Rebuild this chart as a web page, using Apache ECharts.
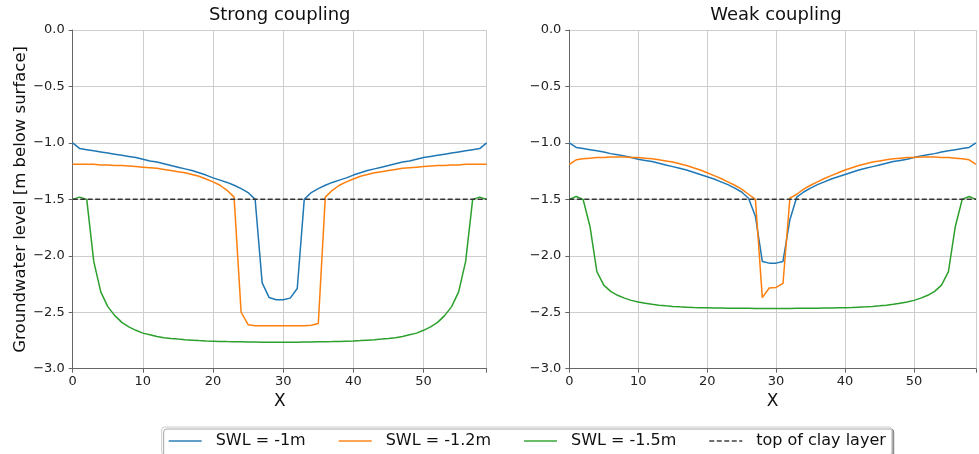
<!DOCTYPE html>
<html>
<head>
<meta charset="utf-8">
<script src="https://cdn.jsdelivr.net/npm/echarts@6/dist/echarts.min.js"></script>
<style>
html,body{margin:0;padding:0;background:#fff;}
#chart{width:979px;height:454px;}
</style>
</head>
<body>
<div id="chart"></div>
<script>
const titles = ["Strong coupling", "Weak coupling"];
const seriesNames = ["SWL = -1m", "SWL = -1.2m", "SWL = -1.5m", "top of clay layer"];
const xValues = [0,1,2,3,4,5,6,7,8,9,10,11,12,13,14,15,16,17,18,19,20,21,22,23,24,25,26,27,28,29,30,31,32,33,34,35,36,37,38,39,40,41,42,43,44,45,46,47,48,49,50,51,52,53,54,55,56,57,58,59];
const clayX = [0, 59];
const clayLevel = [-1.5, -1.5];
const yTicks = [-3.0, -2.5, -2.0, -1.5, -1.0, -0.5, 0.0];
const xTicks = [0, 10, 20, 30, 40, 50];

const strongSWL1 = [-1.00,-1.05,-1.06,-1.07,-1.08,-1.09,-1.10,-1.11,-1.12,-1.13,-1.145,-1.16,-1.17,-1.185,-1.20,-1.215,-1.23,-1.245,-1.265,-1.285,-1.31,-1.33,-1.35,-1.375,-1.405,-1.44,-1.50,-2.24,-2.37,-2.39,-2.39,-2.375,-2.29,-1.50,-1.44,-1.405,-1.375,-1.35,-1.33,-1.31,-1.285,-1.265,-1.245,-1.23,-1.215,-1.20,-1.185,-1.17,-1.16,-1.145,-1.13,-1.12,-1.11,-1.10,-1.09,-1.08,-1.07,-1.06,-1.05,-1.00];
const strongSWL12 = [-1.19,-1.19,-1.19,-1.19,-1.195,-1.195,-1.20,-1.20,-1.205,-1.21,-1.215,-1.22,-1.225,-1.235,-1.245,-1.255,-1.265,-1.28,-1.295,-1.32,-1.345,-1.375,-1.42,-1.48,-2.50,-2.61,-2.62,-2.62,-2.62,-2.62,-2.62,-2.62,-2.62,-2.62,-2.615,-2.60,-1.48,-1.42,-1.375,-1.345,-1.32,-1.295,-1.28,-1.265,-1.255,-1.245,-1.235,-1.225,-1.22,-1.215,-1.21,-1.205,-1.20,-1.20,-1.195,-1.195,-1.19,-1.19,-1.19,-1.19];
const strongSWL15 = [-1.50,-1.48,-1.50,-2.05,-2.32,-2.45,-2.53,-2.59,-2.63,-2.66,-2.685,-2.70,-2.715,-2.725,-2.732,-2.738,-2.743,-2.747,-2.751,-2.754,-2.756,-2.758,-2.760,-2.761,-2.762,-2.763,-2.764,-2.765,-2.765,-2.766,-2.766,-2.765,-2.765,-2.764,-2.763,-2.762,-2.761,-2.760,-2.758,-2.756,-2.754,-2.751,-2.747,-2.743,-2.738,-2.732,-2.725,-2.715,-2.70,-2.685,-2.66,-2.63,-2.59,-2.53,-2.45,-2.32,-2.05,-1.50,-1.48,-1.50];

const weakSWL1 = [-1.00,-1.04,-1.05,-1.06,-1.07,-1.08,-1.095,-1.105,-1.115,-1.13,-1.145,-1.155,-1.165,-1.18,-1.195,-1.21,-1.225,-1.24,-1.26,-1.28,-1.30,-1.32,-1.345,-1.37,-1.40,-1.435,-1.49,-1.65,-2.05,-2.065,-2.065,-2.05,-1.68,-1.48,-1.435,-1.40,-1.37,-1.345,-1.32,-1.30,-1.28,-1.26,-1.24,-1.225,-1.21,-1.195,-1.18,-1.165,-1.155,-1.145,-1.13,-1.115,-1.105,-1.095,-1.08,-1.07,-1.06,-1.05,-1.04,-1.00];
const weakSWL12 = [-1.19,-1.15,-1.14,-1.135,-1.13,-1.13,-1.125,-1.125,-1.125,-1.13,-1.13,-1.135,-1.14,-1.15,-1.16,-1.17,-1.185,-1.20,-1.22,-1.24,-1.265,-1.29,-1.315,-1.345,-1.375,-1.41,-1.455,-1.50,-2.37,-2.285,-2.28,-2.245,-1.49,-1.455,-1.41,-1.375,-1.345,-1.315,-1.29,-1.265,-1.24,-1.22,-1.20,-1.185,-1.17,-1.16,-1.15,-1.14,-1.135,-1.13,-1.13,-1.125,-1.125,-1.125,-1.13,-1.13,-1.135,-1.14,-1.15,-1.19];
const weakSWL15 = [-1.50,-1.475,-1.50,-1.74,-2.14,-2.26,-2.315,-2.35,-2.375,-2.395,-2.41,-2.42,-2.43,-2.437,-2.443,-2.448,-2.452,-2.455,-2.458,-2.46,-2.461,-2.462,-2.463,-2.464,-2.464,-2.465,-2.465,-2.466,-2.466,-2.466,-2.466,-2.466,-2.466,-2.465,-2.465,-2.464,-2.464,-2.463,-2.462,-2.461,-2.46,-2.458,-2.455,-2.452,-2.448,-2.443,-2.437,-2.43,-2.42,-2.41,-2.395,-2.375,-2.35,-2.315,-2.26,-2.14,-1.74,-1.50,-1.475,-1.50];

const colors = ["#1f77b4", "#ff7f0e", "#2ca02c", "#333333"];
const FONT = "DejaVu Sans";

function pairs(xs, ys) { return xs.map((x, i) => [x, ys[i]]); }

const chart = echarts.init(document.getElementById('chart'), null, {renderer: 'canvas'});

const gridsPx = [
  {left: 72.7, top: 30, width: 414, height: 338.7},
  {left: 569.3, top: 30, width: 413.6, height: 338.7}
];

function xAxisCfg(i) {
  return {
    type: 'value', gridIndex: i, min: 0, max: 59, interval: 10,
    name: 'X', nameLocation: 'middle', nameGap: 20,
    nameTextStyle: {fontFamily: FONT, fontSize: 17, color: '#111'},
    axisLine: {show: true, onZero: false, lineStyle: {color: '#666', width: 1}},
    axisTick: {show: true, length: 4, lineStyle: {color: '#666'}},
    axisLabel: {fontFamily: FONT, fontSize: 13, color: '#222', margin: 6,
      formatter: v => (xTicks.indexOf(v) >= 0 ? String(v) : '')},
    splitLine: {show: true, lineStyle: {color: '#cdcdcd', width: 1}}
  };
}
function yAxisCfg(i) {
  const c = {
    type: 'value', gridIndex: i, min: -3, max: 0, interval: 0.5,
    axisLine: {show: true, onZero: false, lineStyle: {color: '#666', width: 1}},
    axisTick: {show: true, length: 4, lineStyle: {color: '#666'}},
    axisLabel: {fontFamily: FONT, fontSize: 13, color: '#222', margin: 8,
      formatter: v => v.toFixed(1).replace('-', '\u2212')},
    splitLine: {show: true, lineStyle: {color: '#cdcdcd', width: 1}}
  };
  if (i === 0) {
    c.name = 'Groundwater level [m below surface]';
    c.nameLocation = 'middle';
    c.nameGap = 41;
    c.nameRotate = 90;
    c.nameTextStyle = {fontFamily: FONT, fontSize: 16.5, color: '#111'};
  }
  return c;
}

const datasets = [
  [strongSWL1, strongSWL12, strongSWL15],
  [weakSWL1, weakSWL12, weakSWL15]
];
const series = [];
for (let g = 0; g < 2; g++) {
  for (let s = 0; s < 3; s++) {
    series.push({
      name: seriesNames[s], type: 'line', xAxisIndex: g, yAxisIndex: g,
      data: pairs(xValues, datasets[g][s]), symbol: 'none',
      lineStyle: {color: colors[s], width: 1.5}, itemStyle: {color: colors[s]},
      z: 3 + s
    });
  }
  series.push({
    name: seriesNames[3], type: 'line', xAxisIndex: g, yAxisIndex: g,
    data: pairs(clayX, clayLevel), symbol: 'none',
    lineStyle: {color: colors[3], width: 1.5, type: [5, 2.5]}, itemStyle: {color: colors[3]},
    z: 10
  });
}

chart.setOption({
  animation: false,
  backgroundColor: '#fff',
  title: [
    {text: titles[0], left: 279.7, top: 6, textAlign: 'center', padding: 0,
     textStyle: {fontFamily: FONT, fontSize: 18, fontWeight: 'normal', color: '#111'}},
    {text: titles[1], left: 776, top: 6, textAlign: 'center', padding: 0,
     textStyle: {fontFamily: FONT, fontSize: 18, fontWeight: 'normal', color: '#111'}}
  ],
  legend: {
    data: seriesNames, left: 161.7, top: 427, orient: 'horizontal',
    itemWidth: 33, itemHeight: 14, itemGap: 32,
    padding: [6, 6, 6, 6],
    borderColor: '#cccccc', borderWidth: 1, borderRadius: 3,
    backgroundColor: '#fff',
    shadowColor: 'rgba(0,0,0,0.35)', shadowOffsetX: 2, shadowOffsetY: 2, shadowBlur: 0,
    itemStyle: {opacity: 0},
    lineStyle: {width: 2, opacity: 0.7},
    textStyle: {fontFamily: FONT, fontSize: 16, color: '#111', padding: [0, 0, 0, 9]}
  },
  grid: gridsPx,
  xAxis: [xAxisCfg(0), xAxisCfg(1)],
  yAxis: [yAxisCfg(0), yAxisCfg(1)],
  series: series
});
</script>
</body>
</html>
